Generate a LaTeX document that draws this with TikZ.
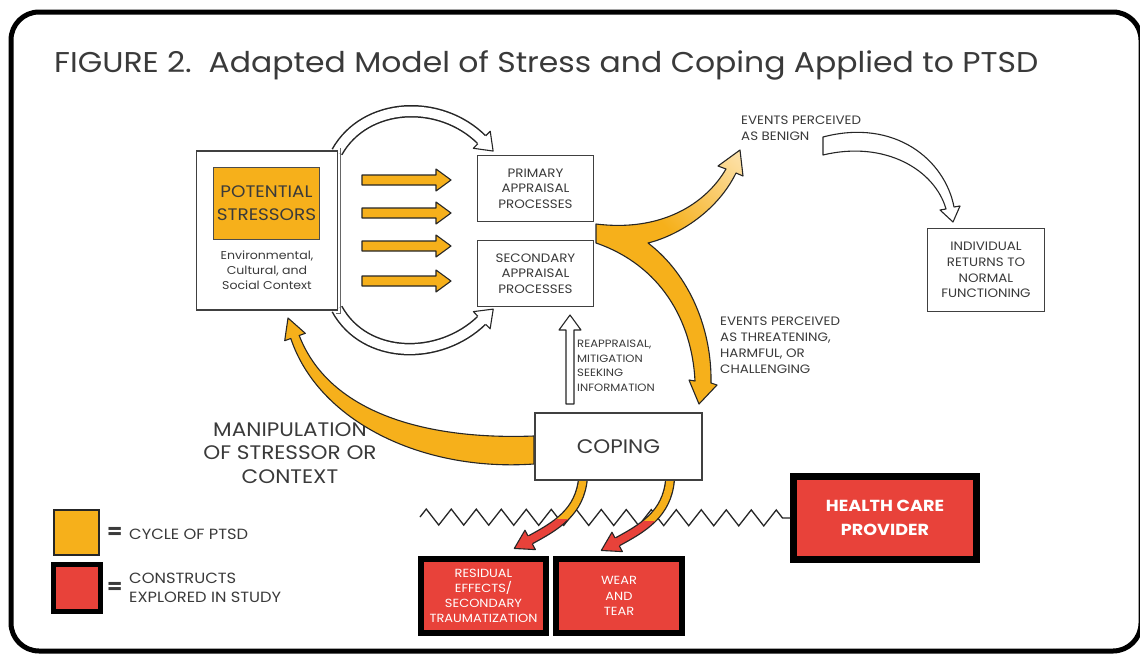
\documentclass[tikz,border=0pt]{standalone}
\usepackage{fontspec}
\setmainfont{Poppins}[FakeStretch=1.1]
\usetikzlibrary{decorations.markings,decorations.pathmorphing}
\definecolor{orng}{HTML}{F6B01B}
\definecolor{redc}{HTML}{E8423A}
\definecolor{cream}{HTML}{FFF4E0}
\definecolor{txt}{HTML}{3A3A3A}
\pgfdeclarehorizontalshading{benign}{100bp}{color(0bp)=(orng); color(40bp)=(orng); color(100bp)=(cream)}
\tikzset{
  box/.style={draw=black!75, line width=1.3, fill=white, inner sep=0, align=center, text=txt},
  redbox/.style={draw=black, fill=redc, text=white, align=center, inner sep=0},
  lbl/.style={text=txt, align=left, inner sep=0, anchor=north west},
  outl/.style={draw=black!85, line width=1.1, line join=round},
  hd/.style n args={4}{postaction={decorate,decoration={markings,mark=at position 0.998 with {\fill[#1] (-0.3,-#2) -- (#3,0) -- (-0.3,#2) -- cycle; \draw[black!85,line width=1.1,line join=round] (0,-#4) -- (0,-#2) -- (#3,0) -- (0,#2) -- (0,#4);}}}},
}
\begin{document}
\begin{tikzpicture}[x=1pt,y=-1pt]
\useasboundingbox (0,0) rectangle (1140,653);
\fill[white] (0,0) rectangle (1140,653);
% frame
\draw[line width=5, rounded corners=28] (11,12) rectangle (1141,651);
% title
\node[anchor=base west, inner sep=0, text=txt, font=\fontsize{28.6}{30}\selectfont] (title) at (54,72) {FIGURE 2.\ \ Adapted Model of Stress and Coping Applied to PTSD};

% appraisal boxes
\node[box, minimum width=116, minimum height=66, font=\fontsize{12.2}{15.5}\selectfont] (prim) at (535.5,188.5) {PRIMARY\\APPRAISAL\\PROCESSES};
\node[box, minimum width=116, minimum height=66, font=\fontsize{12.2}{15.5}\selectfont] (sec) at (535.5,273.5) {SECONDARY\\APPRAISAL\\PROCESSES};

% hollow curved arrows stressor -> appraisal
\draw[line width=12.5, black!85] (337,152) .. controls (365,102) and (440,98) .. (482,140);
\draw[line width=9.5, white] (337,152) .. controls (365,102) and (440,98) .. (482,140);
\path[hd={white}{12}{16}{5.5}] (337,152) .. controls (365,102) and (440,98) .. (482,140);
\draw[line width=12.5, black!85] (337,309) .. controls (365,360) and (440,361) .. (482,320);
\draw[line width=9.5, white] (337,309) .. controls (365,360) and (440,361) .. (482,320);
\path[hd={white}{12}{16}{5.5}] (337,309) .. controls (365,360) and (440,361) .. (482,320);

% context box
\node[box, line width=1.6, minimum width=141, minimum height=159] (ctx) at (267,230.5) {};
\draw[black!60, line width=1.2] ([xshift=2.5pt,yshift=2pt]ctx.north east) -- ([xshift=2.5pt,yshift=-2.5pt]ctx.south east) -- ([xshift=-2pt,yshift=-2.5pt]ctx.south east);
\node[draw=black!70, line width=1.2, fill=orng, minimum width=106, minimum height=72, inner sep=0, align=center, text=txt, font=\fontsize{16.7}{23}\selectfont] (pot) at (266.5,203.5) {POTENTIAL\\STRESSORS};
\node[text=txt, align=center, inner sep=0, font=\fontsize{11.4}{15}\selectfont] (ctxt) at (267,270) {Environmental,\\Cultural, and\\Social Context};
\node[box, minimum width=117, minimum height=83, font=\fontsize{12.2}{15.6}\selectfont] (ind) at (986,270) {INDIVIDUAL\\RETURNS TO\\NORMAL\\FUNCTIONING};

% straight orange arrows
\foreach \yy in {180,213,246,281}{
  \filldraw[fill=orng, outl] (362,\yy-5) -- (436,\yy-5) -- (436,\yy-11) -- (451,\yy) -- (436,\yy+11) -- (436,\yy+5) -- (362,\yy+5) -- cycle;
}

% big orange split arrow
\def\bigpath{(596,224) .. controls (660,232) and (705,205) .. (726,169) -- (718,166) -- (740,150) -- (743,176) -- (736,173) .. controls (718,210) and (680,235) .. (648,243) .. controls (690,275) and (712,330) .. (711,383) -- (717,385) -- (699,404) -- (689,380) -- (695,381) .. controls (692,320) and (660,265) .. (596,243) -- cycle}
\def\uppath{(596,224) .. controls (660,232) and (705,205) .. (726,169) -- (718,166) -- (740,150) -- (743,176) -- (736,173) .. controls (718,210) and (680,235) .. (648,243) -- (596,243) -- cycle}
\fill[orng] \bigpath;
\shade[shading=benign, shading angle=45] \uppath;
\draw[outl] \bigpath;

% benign -> individual hollow arrow
\filldraw[fill=white, outl] (823,137) .. controls (895,118) and (945,160) .. (954,207) -- (960,206) -- (953,222) -- (940,210) -- (946,209) .. controls (935,170) and (885,140) .. (823,155) -- cycle;

% labels
\node[lbl, font=\fontsize{12.2}{16}\selectfont] (benign) at (741,116) {EVENTS PERCEIVED\\AS BENIGN};
\node[lbl, font=\fontsize{12.2}{16}\selectfont] (threat) at (720,317) {EVENTS PERCEIVED\\AS THREATENING,\\HARMFUL, OR\\CHALLENGING};
\node[lbl, font=\fontsize{10.6}{14.5}\selectfont] (reap) at (577,340) {REAPPRAISAL,\\MITIGATION\\SEEKING\\INFORMATION};
\node[text=txt, align=center, inner sep=0, font=\fontsize{19.6}{23.5}\selectfont] (manip) at (290,453) {MANIPULATION\\OF STRESSOR OR\\CONTEXT};

% reappraisal arrow
\filldraw[fill=white, outl] (566,404) -- (566,330) -- (559,330) -- (570,315) -- (581,330) -- (574,330) -- (574,404) -- cycle;

% manipulation arrow
\filldraw[fill=orng, outl] (534,464) .. controls (420,472) and (318,420) .. (290.8,338.5) -- (284.7,340.7) -- (288,318) -- (305.3,333.3) -- (299.2,335.5) .. controls (330,415) and (430,440) .. (534,436) -- cycle;

% health care box and zigzag
\node[redbox, line width=7, minimum width=183, minimum height=83, font=\bfseries\fontsize{16}{24}\selectfont] (hcp) at (885,518) {HEALTH CARE\\PROVIDER};
\coordinate (zz) at (420,517);
\draw[line width=1.3, black!85, decorate, decoration={zigzag, segment length=25, amplitude=8}] (zz) -- (hcp.west);

% coping arrows
\foreach \dx/\dy in {0/0, 87/2}{
  \begin{scope}[shift={(\dx,\dy)}]
  \draw[line width=10, black!85] (583,478) .. controls (580,512) and (556,526) .. (530,540);
  \begin{scope}
    \clip (400,470) rectangle (720,519);
    \draw[line width=7.4, orng] (583,478) .. controls (580,512) and (556,526) .. (530,540);
  \end{scope}
  \begin{scope}
    \clip (400,519) rectangle (720,600);
    \draw[line width=7.4, redc] (583,478) .. controls (580,512) and (556,526) .. (530,540);
  \end{scope}
  \path[hd={redc}{11}{18}{4.5}] (583,478) .. controls (580,512) and (556,526) .. (530,540);
  \end{scope}
}

% coping box
\node[box, minimum width=167, minimum height=67, font=\fontsize{19.6}{20}\selectfont] (cop) at (618.5,446.5) {COPING};

% red result boxes
\node[redbox, line width=6, minimum width=125, minimum height=74, font=\fontsize{11.8}{15}\selectfont] (res) at (483.5,596) {RESIDUAL\\EFFECTS/\\SECONDARY\\TRAUMATIZATION};
\node[redbox, line width=6, minimum width=126, minimum height=74, font=\fontsize{11.8}{15.5}\selectfont] (wear) at (619,596) {WEAR\\AND\\TEAR};

% legend
\node[draw=black!85, line width=1.6, fill=orng, minimum size=45, inner sep=0] (legO) at (76.5,532.5) {};
\node[draw=black, line width=5, fill=redc, minimum size=47, inner sep=0] (legR) at (77,588) {};
\node[text=txt, anchor=west, inner sep=0, font=\bfseries\fontsize{20}{20}\selectfont] (eq1) at (107,533) {=};
\node[text=txt, anchor=west, inner sep=0, font=\bfseries\fontsize{20}{20}\selectfont] (eq2) at (107,588) {=};
\node[lbl, anchor=west, font=\fontsize{14.8}{18.5}\selectfont] (l1) at (129,534) {CYCLE OF PTSD};
\node[lbl, anchor=west, font=\fontsize{14.8}{18.5}\selectfont] (l2) at (129,588) {CONSTRUCTS\\EXPLORED IN STUDY};
\end{tikzpicture}
\end{document}
